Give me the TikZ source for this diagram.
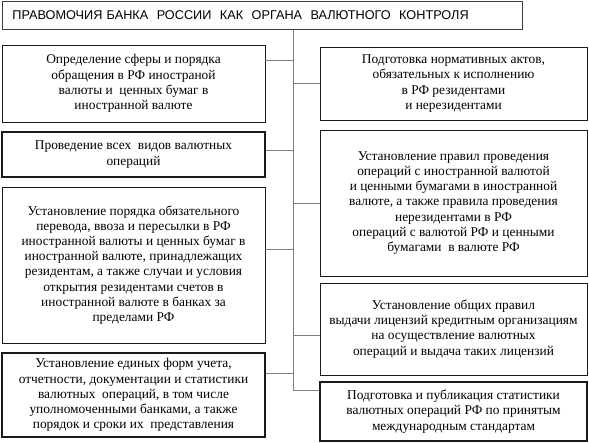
\documentclass[tikz,border=0pt]{standalone}
\usepackage{fontspec}
\setmainfont{Liberation Serif}
\newfontfamily\titlefont{Liberation Sans}
\usepackage{xcolor}
\usetikzlibrary{positioning,calc}
\definecolor{vkink}{HTML}{1A1A1A}
\definecolor{vkline}{HTML}{7E7E7E}
\tikzset{
  blok/.style={draw=vkink,line width=0.8pt,align=center,inner sep=2pt,
    font=\fontsize{13.4}{15.2}\selectfont},
  blokbold/.style={blok,line width=1.6pt},
  svyaz/.style={draw=vkline,line width=0.7pt},
}

\begin{document}
\begin{tikzpicture}[x=1pt,y=-1pt]
\useasboundingbox (0,0) rectangle (589,443);
% title
\node[draw=vkink!85,line width=0.8pt,anchor=north west,text width=500pt,
      inner xsep=10pt,minimum height=28pt,align=left,
      font=\titlefont\fontsize{12.7}{15}\selectfont] (ttl) at (2,1)
  {ПРАВОМОЧИЯ БАНКА\ \ РОССИИ\ \ КАК\ \ ОРГАНА\ \ ВАЛЮТНОГО\ \ КОНТРОЛЯ};
% left column
\node[blok,minimum width=263pt,minimum height=77pt] (l1) at (133.5,83.5)
  {Определение сферы и порядка\\ обращения в РФ иностраной\\ валюты и\ \ ценных бумаг в\\ иностранной валюте};
\node[blokbold,minimum width=263pt,minimum height=45pt] (l2) at (133.5,154.5)
  {Проведение всех\ \ видов валютных\\ операций};
\node[blok,minimum width=263pt,minimum height=156pt] (l3) at (133.5,265)
  {Установление порядка обязательного\\ перевода, ввоза и пересылки в РФ\\ иностранной валюты и ценных бумаг в\\ иностранной валюте, принадлежащих\\ резидентам, а также случаи и условия\\ открытия резидентами счетов в\\ иностранной валюте в банках за\\ пределами РФ};
\node[blokbold,minimum width=263pt,minimum height=84pt] (l4) at (133.5,395)
  {Установление единых форм учета,\\ отчетности, документации и статистики\\ валютных\ \ операций, в том числе\\ уполномоченными банками, а также\\ порядок и сроки их\ \ представления};
% right column
\node[blok,minimum width=267pt,minimum height=73pt] (r1) at (453.5,83.5)
  {Подготовка нормативных актов,\\ обязательных к исполнению\\ в РФ резидентами\\ и нерезидентами};
\node[blok,minimum width=267pt,minimum height=146pt] (r2) at (453.5,203)
  {Установление правил проведения\\ операций с иностранной валютой\\ и ценными бумагами в иностранной\\ валюте, а также правила проведения\\ нерезидентами в РФ\\ операций с валютой РФ и ценными\\ бумагами\ \ в валюте РФ};
\node[blok,minimum width=267pt,minimum height=92pt] (r3) at (453.5,329)
  {Установление общих правил\\ выдачи лицензий кредитным организациям\\ на осуществление валютных\\ операций и выдача таких лицензий};
\node[blokbold,minimum width=267pt,minimum height=59pt] (r4) at (453.5,411.5)
  {Подготовка и публикация статистики\\ валютных операций РФ по принятым\\ международным стандартам};
% spine and branches
\coordinate (s1) at (293,60);
\coordinate (s2) at (293,83);
\coordinate (s3) at (293,150);
\coordinate (s4) at (293,203);
\coordinate (s5) at (293,249);
\coordinate (s6) at (293,335);
\coordinate (s7) at (293,373);
\coordinate (s8) at (293,390);
\draw[svyaz] (ttl.south -| s8) -- (s8) -- (s8 -| r4.west);
\draw[svyaz] (s1) -- (s1 -| l1.east);
\draw[svyaz] (s2) -- (s2 -| r1.west);
\draw[svyaz] (s3) -- (s3 -| l2.east);
\draw[svyaz] (s4) -- (s4 -| r2.west);
\draw[svyaz] (s5) -- (s5 -| l3.east);
\draw[svyaz] (s6) -- (s6 -| r3.west);
\draw[svyaz] (s7) -- (s7 -| l4.east);
\end{tikzpicture}
\end{document}
